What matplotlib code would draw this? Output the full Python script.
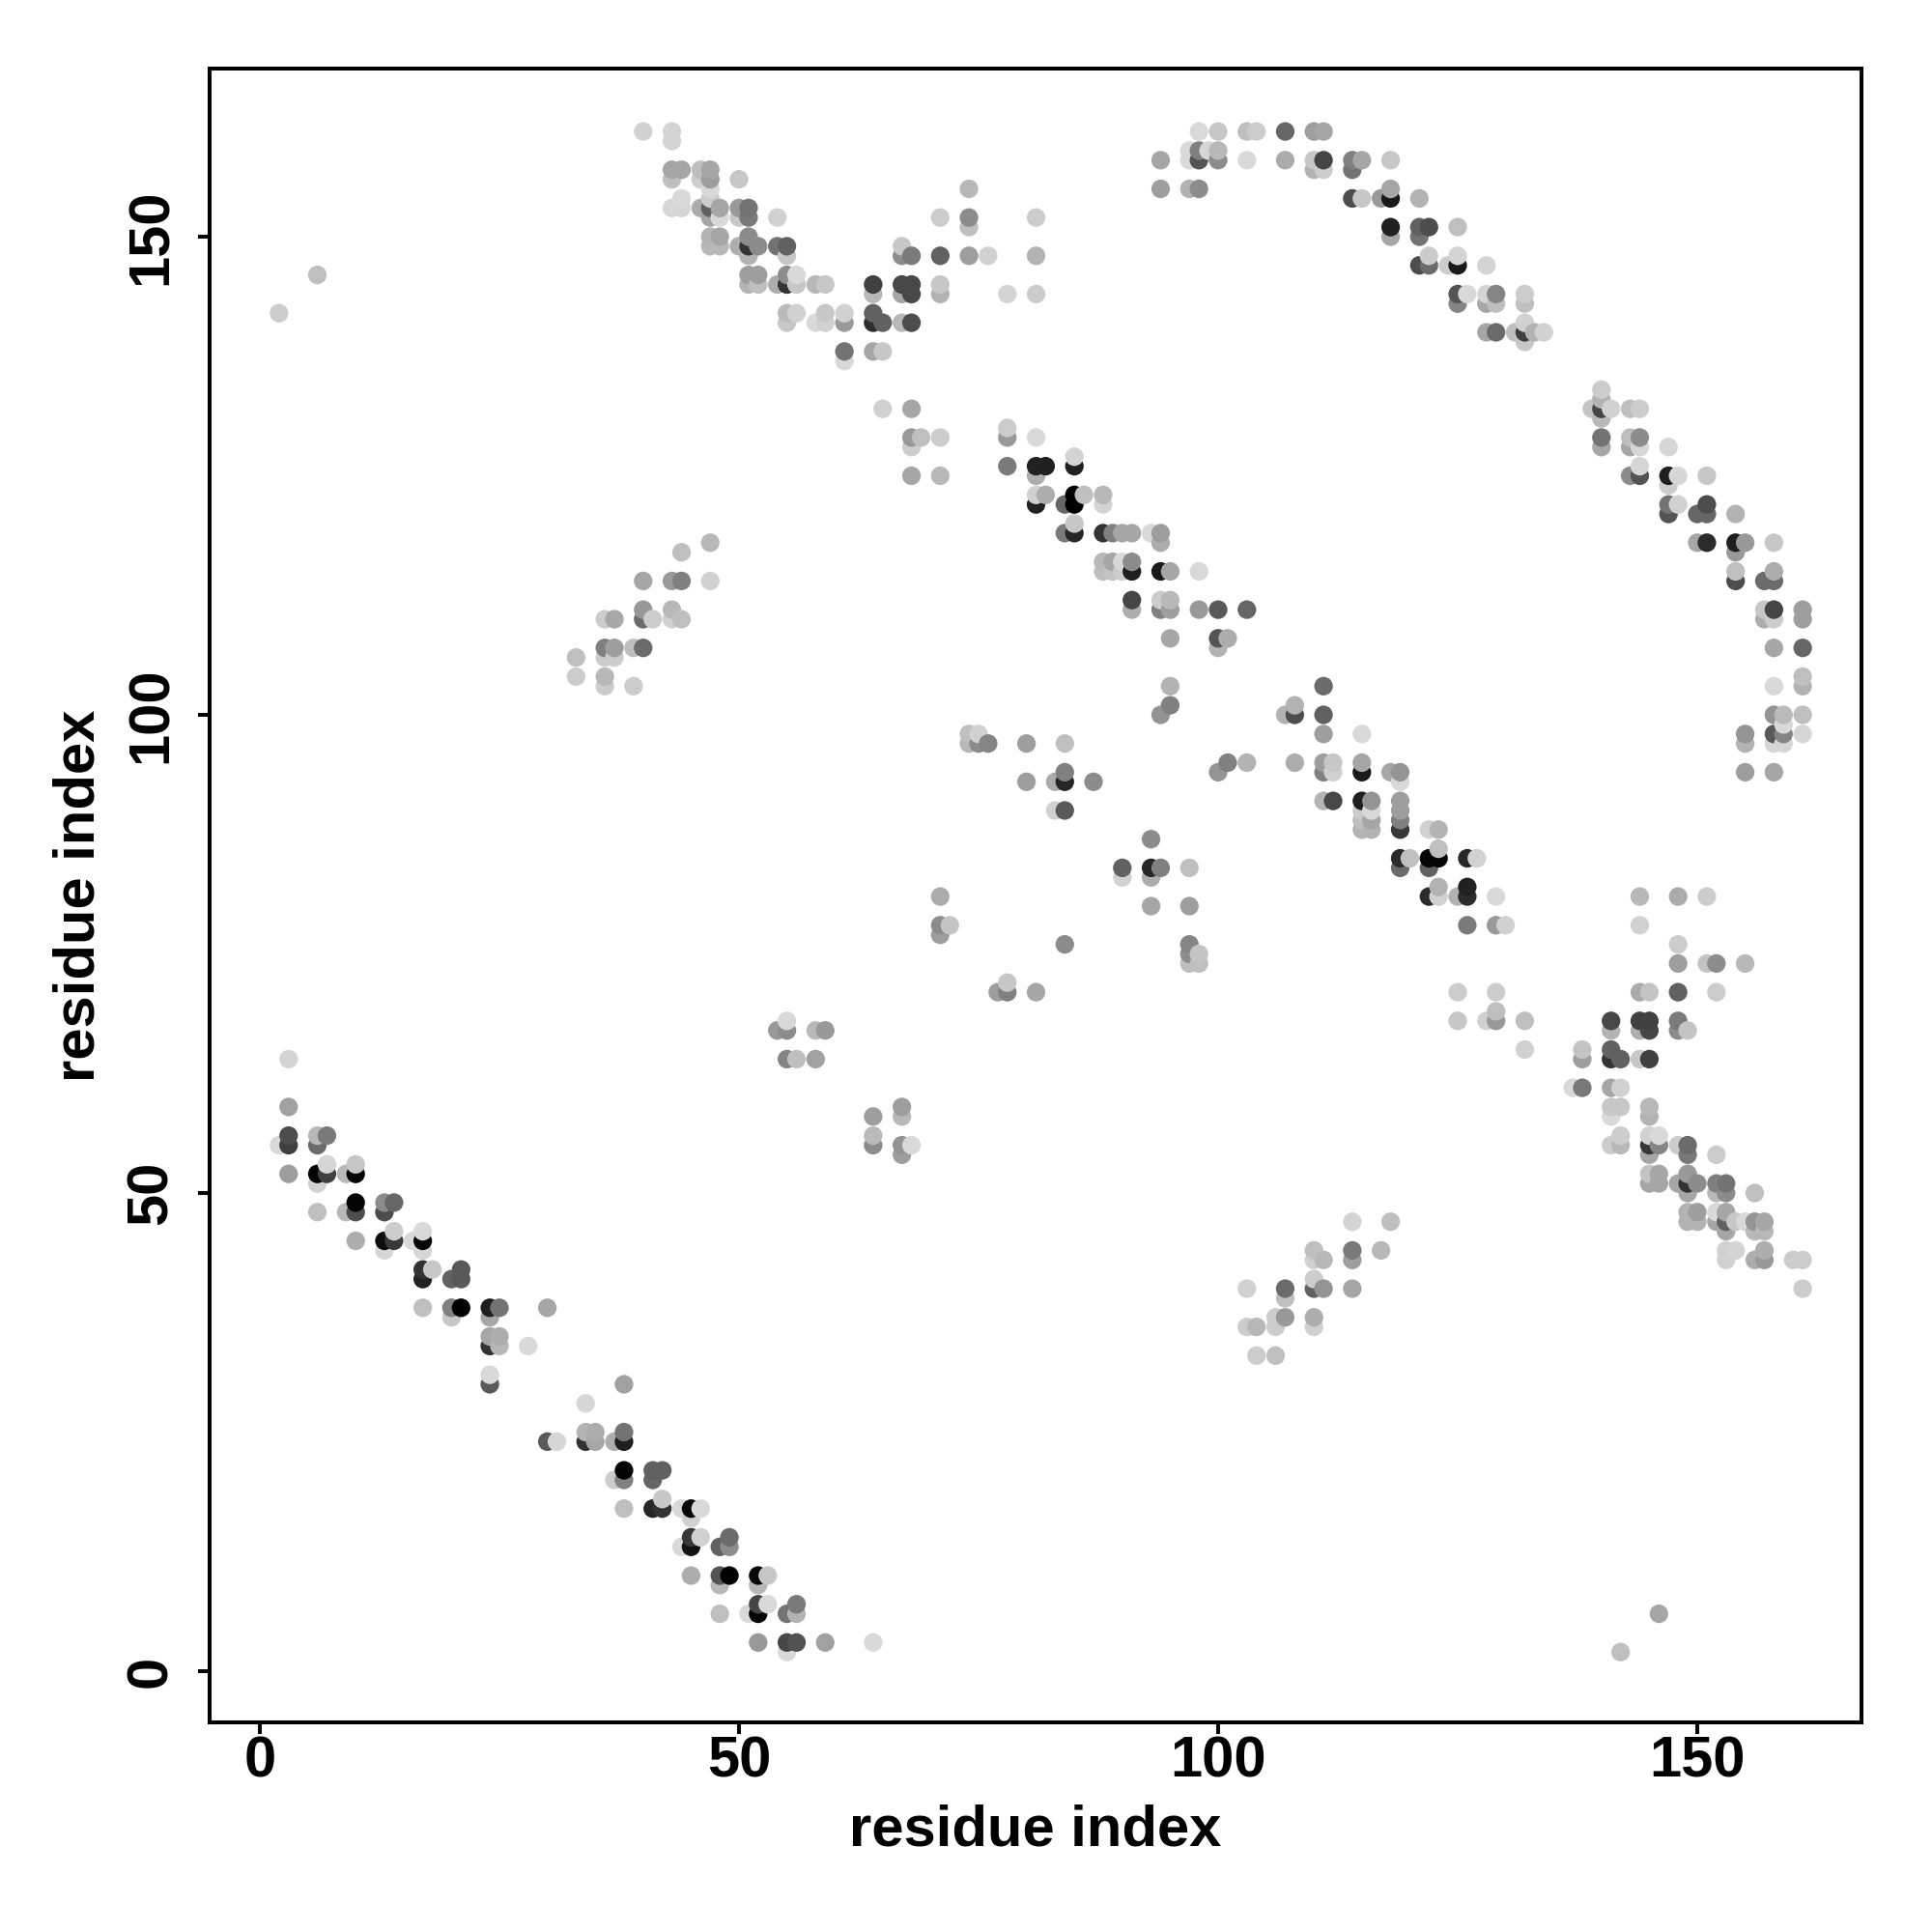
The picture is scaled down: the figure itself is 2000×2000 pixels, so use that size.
import numpy as np
import matplotlib
matplotlib.use("Agg")
import matplotlib.pyplot as plt

plt.rcParams['font.family'] = ['Liberation Sans', 'DejaVu Sans']

# contact map: residue x, residue y, gray level (0 black .. 1 white), by region
a_x = [3,3,3,3,2,3, 6,7,6, 6,7,7,6, 9,10,10, 6, 9,10,10, 13,14,13, 10, 13,14,14,13, 16,17,17,17, 17,18,17, 20,21,21, 17, 20,21,20, 24,25,24,30, 24,25,24,25,28, 24,24]
a_y = [64,59,56,55,55,52, 56,56,55, 52,52,53,51, 52,52,53, 48, 48,49,48, 49,49,48, 45, 45,45,46,44, 45,45,46,44, 42,42,41, 41,42,41, 38, 38,38,37, 38,38,37,38, 35,35,34,34,34, 31,30]
a_g = [.83,.63,.30,.25,.85,.62, .72,.48,.42, .02,.25,.84,.82, .72,.02,.78, .75, .72,.02,.30, .55,.40,.30, .68, .05,.22,.80,.84, .85,.02,.85,.84, .2,.78,.13, .38,.35,.35, .75, .5,.0,.78, .12,.45,.65,.65, .65,.68,.2,.72,.85, .85,.35]

b_x = [38,34, 34,35,34,35,37,38,38, 30,31, 38,38,37, 41,42,41, 38, 41,42,42, 44,45,46,45, 45,46,45,44, 48,49,49, 45,48,49,48, 52,53,52, 52,53,52,51, 48,55,56,56, 52,55,56,59,64,55]
b_y = [30,28, 25,25,24,24,24,25,24, 24,24, 21,20,20, 21,21,20, 17, 17,17,18, 17,17,17,16, 14,14,13,13, 13,13,14, 10,10,10,9, 10,10,9, 7,7,6,6, 6,6,7,6, 3,3,3,3,3,2]
b_g = [.63,.84, .7,.68,.2,.65,.68,.45,.12, .35,.84, .02,.5,.8, .38,.38,.4, .75, .15,.2,.78, .85,.02,.85,.82, .22,.82,.07,.85, .38,.55,.42, .68,.33,.0,.72, .03,.78,.72, .27,.85,.02,.85, .75,.45,.48,.7, .6,.28,.32,.63,.85,.85]

c_x = [40,43,43, 43,44,43, 46,47,46,47, 50,47, 43,44,44,46,47, 47,48,48,47, 50,51,50,51,54, 47,48,47,48, 50,51,51,52,51, 54,55,55, 51,52,51,52, 54,55,55,56,56, 58,59, 55,56,55, 58,59,59,61,61, 64,64,65,67,68, 64,64, 67,68,67,68, 71,71, 78, 67,67,68,71,74,76, 71,74,74,74, 61,61,64,65, 81,81,81]
c_y = [161,161,160, 157,157,156, 157,157,156,156, 156,155, 153,154,153,153,154, 153,153,152,152, 153,153,152,152,152, 150,150,149,149, 149,150,149,149,148, 149,149,148, 146,146,145,145, 145,146,145,146,145, 145,145, 142,142,141, 141,142,141,142,141, 142,141,141,141,141, 145,144, 145,145,144,144, 145,144, 144, 149,148,148,148,148,148, 152,152,151,155, 138,137,138,138, 152,148,144]
c_g = [.82,.83,.83, .65,.65,.75, .75,.65,.8,.62, .78,.85, .84,.85,.84,.68,.8, .38,.65,.85,.65, .6,.45,.78,.48,.82, .7,.65,.72,.72, .68,.55,.2,.55,.7, .45,.38,.78, .62,.62,.7,.75, .68,.55,.2,.85,.78, .72,.78, .73,.82,.78, .85,.78,.82,.82,.6, .38,.18,.38,.72,.3, .25,.72, .28,.28,.65,.28, .78,.7, .83, .78,.55,.48,.38,.62,.82, .8,.55,.75,.72, .45,.85,.65,.78, .8,.7,.8]

d_x = [98,100,103,104,107,110,111, 94,97,97,98,98,99,100,100, 103,107,110,111,110,111, 114,115,114,118, 94,97,98, 114,115,117,118,118,121, 118,121,122,125,118,121, 121,122,122,124,125,125,128, 125,126,125,128,129,128,129,132,132, 128,129,131,132,132,132,133,134]
d_y = [161,161,161,161,161,161,161, 158,159,158,159,158,159,159,158, 158,158,158,158,157,157, 158,158,157,158, 155,155,155, 154,154,154,154,155,154, 151,151,151,151,150,150, 147,147,148,147,147,148,147, 144,144,143,144,144,143,143,144,143, 140,140,140,140,141,139,140,140]
d_g = [.85,.78,.75,.8,.4,.62,.65, .65,.85,.85,.5,.33,.84,.72,.55, .85,.67,.78,.27,.7,.8, .5,.65,.45,.78, .62,.7,.55, .3,.78,.6,.1,.65,.7, .13,.38,.3,.75,.65,.45, .3,.42,.8,.8,.1,.83,.83, .33,.85,.52,.83,.52,.65,.75,.8,.75, .65,.42,.75,.25,.82,.78,.7,.82]

e_x = [78,78,81, 78,81,82,85,85,81, 81,82,81,84,85,85,86,88,88, 84,85,85,88,89,90,91,93,94,94, 88,89,90,91,88,89,90,91,94,95,98, 91,91,94,95,94,95,98,100,103, 95,100,101,100, 95,95,94]
e_y = [130,129,129, 126,126,126,126,127,125, 123,123,122,122,123,122,123,123,122, 119,119,120,119,119,119,119,119,119,118, 116,116,116,116,115,115,115,115,115,115,115, 112,111,112,112,111,111,111,111,111, 108,108,108,107, 103,101,100]
e_g = [.8,.6,.85, .48,.13,.13,.13,.83,.68, .82,.68,.13,.4,.0,.0,.75,.72,.83, .48,.15,.78,.2,.5,.65,.65,.85,.62,.68, .72,.65,.85,.55,.75,.77,.8,.12,.1,.65,.85, .27,.68,.8,.72,.5,.62,.6,.35,.4, .65,.33,.68,.7, .7,.5,.58]

f_x = [140,140,140,139,141,140,143,144, 140,140,143,143,144,144,147, 143,144,144,147,148,147,151, 147,148,147,150,151,151,154, 150,151,154,155,154,158, 154,154,157,158,158, 157,158,157,158,161,161, 158,161, 161,158,161, 158,159,161, 155,158,159,159,161, 155,158,159, 155,158]
f_y = [134,133,132,132,132,131,132,132, 129,128,129,128,129,128,128, 125,125,126,125,125,124,125, 122,122,121,121,122,121,121, 118,118,118,118,117,118, 115,114,114,115,114, 111,111,110,110,111,110, 107,107, 104,103,103, 100,100,100, 98,98,98,99,98, 97,97,97, 94,94]
f_g = [.8,.7,.27,.77,.82,.72,.75,.8, .45,.65,.75,.65,.55,.84,.84, .55,.33,.84,.12,.84,.8,.78, .45,.82,.33,.4,.3,.4,.7, .65,.17,.12,.6,.6,.78, .75,.3,.42,.68,.42, .78,.27,.68,.8,.62,.62, .65,.4, .75,.85,.7, .58,.73,.75, .58,.35,.52,.85,.84, .7,.84,.84, .62,.65]

g_x = [111, 108,108,107,111, 111,115, 108,111,112,111,112,115,115,118,119,119, 111,112,115,116,115,116,115,116,115,116, 119,119,119,119, 122,123, 119,120,119,122,123,123,122,126,127, 122,123,123,125,126,126,129, 126,129,130]
g_y = [103, 101,100,100,100, 98,98, 95,95,95,94,94,95,94,94,94,93, 91,91,91,91,90,90,89,89,88,88, 91,90,89,88, 88,88, 85,85,84,85,85,86,84,85,85, 81,82,81,81,82,81,81, 78,78,78]
g_g = [.42, .7,.3,.7,.38, .62,.85, .68,.62,.78,.5,.82,.65,.1,.65,.58,.85, .7,.28,.12,.58,.8,.85,.75,.65,.7,.7, .62,.62,.5,.22, .82,.7, .17,.75,.42,.02,.02,.75,.38,.15,.82, .17,.7,.82,.7,.13,.17,.85, .48,.6,.82]

h_x = [144,148,151, 144,148,148, 151,152,155, 144,145,148,152, 141,141,144,145,144,145,148,148,149, 138,138,141,141,142,144,145, 137,138,141,142, 141,142,141,145,145, 142,141,142,145,146,145,146,145, 148,149,149,152, 145,146,145,146, 148,149,149,150,149, 152,153,152,153,156, 149,150,149,150, 152,153,152,153,154,155,153, 156,157,156,157, 153,154,153,156,157,157,160,161,161]
h_y = [81,81,81, 78,76,74, 74,74,74, 71,71,71,71, 68,67,68,68,67,67,68,67,67, 65,64,65,64,64,64,64, 61,61,61,61, 59,59,58,59,58, 56,55,55,56,56,55,55,54, 55,55,54,54, 52,52,51,51, 51,52,51,51,50, 51,51,50,50,50, 48,48,47,47, 48,48,47,47,47,47,46, 47,47,46,46, 44,44,43,43,44,43,43,43,40]
h_g = [.72,.67,.8, .82,.8,.62, .77,.55,.72, .67,.77,.38,.8, .28,.7,.25,.25,.68,.27,.48,.55,.77, .77,.62,.38,.2,.38,.78,.25, .85,.47,.65,.82, .78,.78,.85,.72,.7, .8,.8,.72,.82,.85,.22,.52,.65, .8,.42,.48,.8, .77,.65,.65,.65, .65,.6,.2,.55,.65, .5,.45,.72,.55,.75, .7,.62,.7,.7, .85,.65,.65,.38,.78,.85,.65, .58,.65,.72,.72, .82,.83,.82,.68,.68,.6,.8,.8,.8]

i_x = [33,33,36,36,39, 36,37,36,37,39,40, 36,37,40,40,41,43,43,44, 40,43,44,47, 44,47]
i_y = [104,106,104,103,103, 107,107,106,106,107,107, 110,110,111,110,110,111,110,110, 114,114,114,114, 117,118]
i_g = [.8,.75,.72,.8,.8, .5,.62,.8,.8,.75,.42, .8,.66,.6,.42,.8,.72,.82,.75, .65,.6,.5,.82, .75,.72]

j_x = [74,75,74,75,76,80,84, 80,83,84,84,87, 83,84, 100,101,103, 93, 90,90,93,94,93,97, 93,97, 71, 71,72,71, 84, 97,97,98,97,98, 77,78,78,81]
j_y = [98,98,97,97,97,97,97, 93,93,93,94,93, 90,90, 94,95,95, 87, 84,83,84,84,83,84, 80,80, 81, 78,78,77, 76, 76,75,75,74,74, 71,71,72,71]
j_g = [.75,.82,.72,.55,.52,.62,.75, .62,.67,.15,.5,.55, .82,.35, .58,.5,.7, .55, .38,.82,.15,.5,.68,.75, .65,.62, .67, .55,.77,.62, .55, .52,.55,.77,.75,.75, .62,.5,.78,.65]

k_x = [114,118,110,111,110,114,114,117, 103,107,107,110,110,111,114, 106,107,106,110,110,103,104, 104,106]
k_y = [47,47,44,43,43,44,43,44, 40,40,39,41,40,40,40, 37,37,36,37,36,36,36, 33,33]
k_g = [.83,.75,.75,.72,.82,.48,.62,.72, .82,.42,.75,.8,.38,.58,.65, .8,.6,.8,.68,.82,.8,.72, .8,.75]

l_x = [54,55,55,58,59,55,56,58, 64,64,64,67,67,67,67,68, 2,6,142,146, 65,68,68,68,69,71,68,71, 125,129,125,128,129,129,132,132]
l_y = [67,67,68,67,67,64,64,64, 58,56,55,59,58,55,54,55, 142,146,2,6, 132,132,129,128,129,129,125,125, 71,71,68,68,69,68,68,65]
l_g = [.6,.55,.85,.72,.6,.52,.75,.63, .62,.73,.55,.62,.72,.58,.62,.85, .8,.75,.75,.65, .82,.65,.6,.8,.75,.8,.65,.72, .8,.8,.78,.82,.75,.6,.75,.82]

x_ticks = [0, 50, 100, 150]
y_ticks = [0, 50, 100, 150]

res_x = np.array(a_x+b_x+c_x+d_x+e_x+f_x+g_x+h_x+i_x+j_x+k_x+l_x, float)
res_y = np.array(a_y+b_y+c_y+d_y+e_y+f_y+g_y+h_y+i_y+j_y+k_y+l_y, float)
res_g = np.array(a_g+b_g+c_g+d_g+e_g+f_g+g_g+h_g+i_g+j_g+k_g+l_g, float)
order = np.lexsort((res_y, res_x))
res_x, res_y, res_g = res_x[order], res_y[order], res_g[order]

W = 2000
fig = plt.figure(figsize=(20, 20), dpi=100, facecolor='white')
ax = fig.add_axes([217/W, 1-1783/W, (1927-217)/W, (1783-71)/W])
ax.scatter(res_x, res_y, s=192, c=[(g, g, g) for g in res_g], linewidths=0, zorder=3, clip_on=True)
ax.set_xlim((217-269)/9.92, (1927-269)/9.92)
ax.set_ylim((1730-1783)/9.9, (1730-71)/9.9)
ax.set_xticks(x_ticks)
ax.set_yticks(y_ticks)
for s in ax.spines.values():
    s.set_linewidth(2.9)
ax.tick_params(axis='both', length=8.5, width=2.9, direction='out')
ax.tick_params(axis='x', labelsize=43, pad=1)
ax.tick_params(axis='y', labelsize=43, pad=15)
for t in ax.get_xticklabels():
    t.set_fontweight('bold')
for t in ax.get_yticklabels():
    t.set_fontweight('bold')
    t.set_rotation(90)
    t.set_va('center')
ax.set_xlabel('residue index', fontsize=43, fontweight='bold')
ax.set_ylabel('residue index', fontsize=43, fontweight='bold')
ax.xaxis.set_label_coords(0.5, -(1895-1783)/1712, transform=ax.transAxes)
ax.xaxis.label.set_va('center')
ax.yaxis.set_label_coords(-(217-82)/1710, 0.5, transform=ax.transAxes)
ax.yaxis.label.set_va('center')
fig.savefig('out.png', dpi=100)
